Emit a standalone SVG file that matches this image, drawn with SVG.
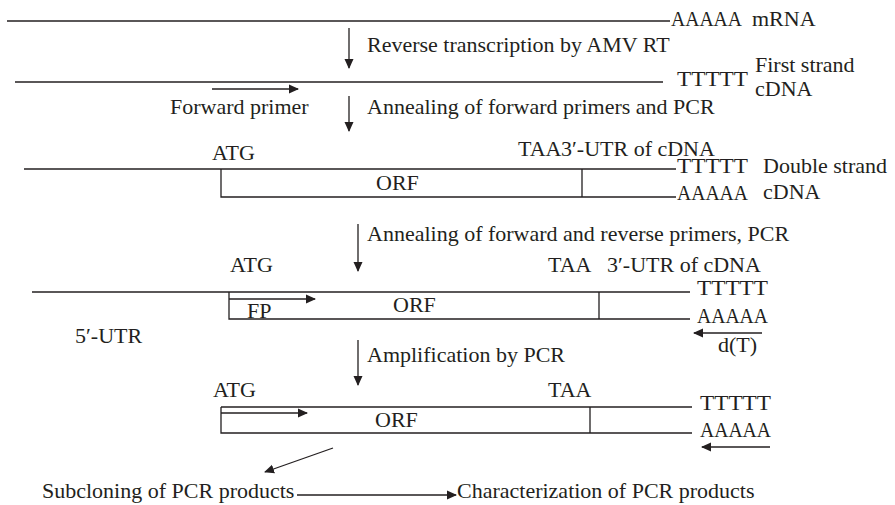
<svg xmlns="http://www.w3.org/2000/svg" width="895" height="505" viewBox="0 0 895 505">
<defs>
<marker id="ah" markerWidth="10" markerHeight="10" refX="9" refY="5" orient="auto" markerUnits="userSpaceOnUse">
<path d="M0,0.5 L10,5 L0,9.5 Z" fill="#231f20"/>
</marker>
</defs>
<style>
text{font-family:"Liberation Serif","Times New Roman",serif;font-size:22px;fill:#231f20}
line,path.s{stroke:#231f20;stroke-width:1.3;fill:none}
.a{marker-end:url(#ah)}
</style>
<rect width="895" height="505" fill="#fff"/>
<g id="connectors">
<line class="a" x1="349" y1="28" x2="349" y2="68"/>
<line class="a" x1="349" y1="96" x2="349" y2="131"/>
<line class="a" x1="358" y1="224" x2="358" y2="271"/>
<line class="a" x1="358" y1="340" x2="358" y2="385"/>
<line class="a" x1="333" y1="448" x2="265" y2="472"/>
<line class="a" x1="297" y1="495" x2="456" y2="495"/>
</g>
<g id="mrna">
<line x1="7" y1="21" x2="670" y2="21"/>
<text x="671" y="26" textLength="71" lengthAdjust="spacingAndGlyphs">AAAAA</text>
<text x="752" y="26">mRNA</text>
</g>
<text x="367" y="52">Reverse transcription by AMV RT</text>
<g id="first-strand">
<line x1="15" y1="82" x2="663" y2="82"/>
<text x="677" y="86" textLength="71" lengthAdjust="spacingAndGlyphs">TTTTT</text>
<text x="755" y="72">First strand</text>
<text x="755" y="96">cDNA</text>
<line class="a" x1="212" y1="89" x2="298" y2="89"/>
<text x="170" y="114">Forward primer</text>
</g>
<text x="367" y="114">Annealing of forward primers and PCR</text>
<g id="double-strand">
<text x="212" y="160">ATG</text>
<text x="518" y="156">TAA</text>
<text x="561" y="156">3′-UTR of cDNA</text>
<line x1="24" y1="169" x2="676" y2="169"/>
<path class="s" d="M221,169 V197 H676 M582,169 V197"/>
<text x="376" y="190">ORF</text>
<text x="677" y="173" textLength="71" lengthAdjust="spacingAndGlyphs">TTTTT</text>
<text x="763" y="173">Double strand</text>
<text x="677" y="200" textLength="71" lengthAdjust="spacingAndGlyphs">AAAAA</text>
<text x="763" y="199">cDNA</text>
</g>
<text x="367" y="241">Annealing of forward and reverse primers, PCR</text>
<g id="primers">
<text x="230" y="272">ATG</text>
<text x="548" y="272">TAA</text>
<text x="607" y="272">3′-UTR of cDNA</text>
<line x1="32" y1="292" x2="690" y2="292"/>
<path class="s" d="M229,292 V319 H690 M599,292 V319"/>
<line class="a" x1="229" y1="299" x2="315" y2="299"/>
<text x="247" y="318">FP</text>
<text x="393" y="312">ORF</text>
<text x="697" y="295" textLength="71" lengthAdjust="spacingAndGlyphs">TTTTT</text>
<text x="697" y="323" textLength="71" lengthAdjust="spacingAndGlyphs">AAAAA</text>
<line class="a" x1="762" y1="333" x2="694" y2="333"/>
<text x="718" y="352">d(T)</text>
<text x="75" y="343">5′-UTR</text>
</g>
<text x="367" y="362">Amplification by PCR</text>
<g id="amplified">
<text x="213" y="397">ATG</text>
<text x="548" y="397">TAA</text>
<line x1="221" y1="407" x2="692" y2="407"/>
<path class="s" d="M221,407 V433 H692 M590,407 V433"/>
<line class="a" x1="221" y1="413" x2="307" y2="413"/>
<text x="375" y="427">ORF</text>
<text x="700" y="410" textLength="71" lengthAdjust="spacingAndGlyphs">TTTTT</text>
<text x="700" y="437" textLength="71" lengthAdjust="spacingAndGlyphs">AAAAA</text>
<line class="a" x1="770" y1="447" x2="702" y2="447"/>
</g>
<g id="subcloning">
<text x="42" y="498">Subcloning of PCR products</text>
</g>
<g id="characterization">
<text x="457" y="498">Characterization of PCR products</text>
</g>
</svg>
